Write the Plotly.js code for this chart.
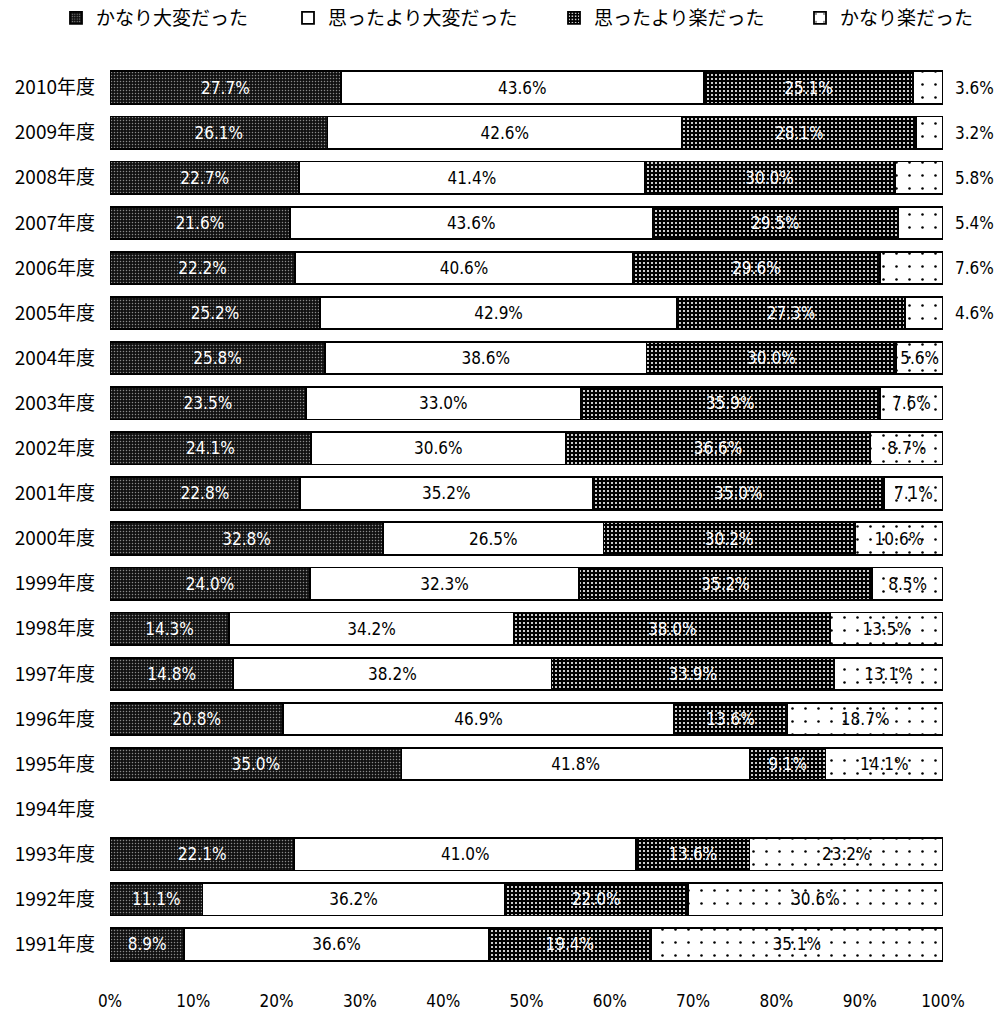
<!DOCTYPE html>
<html>
<head>
<meta charset="utf-8">
<script src="https://cdn.plot.ly/plotly-3.0.1.min.js"></script>
<style>body{margin:0;background:#fff;}#chart{width:1000px;height:1032px;}</style>
</head>
<body>
<div id="chart"></div>
<script>
const years = ["2010年度","2009年度","2008年度","2007年度","2006年度","2005年度","2004年度","2003年度","2002年度","2001年度","2000年度","1999年度","1998年度","1997年度","1996年度","1995年度","1994年度","1993年度","1992年度","1991年度"];
const seriesNames = ["かなり大変だった","思ったより大変だった","思ったより楽だった","かなり楽だった"];
const veryHard = [27.7,26.1,22.7,21.6,22.2,25.2,25.8,23.5,24.1,22.8,32.8,24.0,14.3,14.8,20.8,35.0,null,22.1,11.1,8.9];
const harder   = [43.6,42.6,41.4,43.6,40.6,42.9,38.6,33.0,30.6,35.2,26.5,32.3,34.2,38.2,46.9,41.8,null,41.0,36.2,36.6];
const easier   = [25.1,28.1,30.0,29.5,29.6,27.3,30.0,35.9,36.6,35.0,30.2,35.2,38.0,33.9,13.6,9.1,null,13.6,22.0,19.4];
const veryEasy = [3.6,3.2,5.8,5.4,7.6,4.6,5.6,7.6,8.7,7.1,10.6,8.5,13.5,13.1,18.7,14.1,null,23.2,30.6,35.1];
const outsideLabel = [true,true,true,true,true,true,false,false,false,false,false,false,false,false,false,false,false,false,false,false];
const tickVals = [0,10,20,30,40,50,60,70,80,90,100];
const tickText = ["0%","10%","20%","30%","40%","50%","60%","70%","80%","90%","100%"];

const labelFont = "'Liberation Sans Narrow', 'DejaVu Sans Condensed', 'DejaVu Sans', sans-serif";
const cjkFont = "'Noto Sans CJK JP', sans-serif";
const fmt = v => v == null ? "" : v.toFixed(1) + "%";

const styles = [
  {color:"#111", pattern:{shape:".", fgcolor:"#8a8a8a", bgcolor:"#111", size:3, solidity:0.2}, txt:"#fff"},
  {color:"#fff", pattern:null, txt:"#000"},
  {color:"#000", pattern:{shape:".", fgcolor:"#fff", bgcolor:"#000", size:4, solidity:0.22}, txt:"#fff"},
  {color:"#fff", pattern:{shape:".", fgcolor:"#000", bgcolor:"#fff", size:13, solidity:0.03}, txt:"#000"}
];
const allVals = [veryHard, harder, easier, veryEasy];
const legendIds = ["legend","legend2","legend3","legend4"];

const traces = allVals.map((vals, i) => {
  const s = styles[i];
  const marker = {color: s.color, line:{color:"#000", width:1.8}};
  if (s.pattern) marker.pattern = s.pattern;
  return {
    type:"bar", orientation:"h", name: seriesNames[i], legend: legendIds[i],
    y: years, x: vals,
    text: vals.map((v, j) => (i === 3 && outsideLabel[j]) ? "" : fmt(v)),
    textposition:"inside", insidetextanchor:"middle", constraintext:"none",
    textfont:{family: labelFont, size:17, color: s.txt},
    marker: marker, width:0.72, hoverinfo:"skip"
  };
});

const annotations = [];
years.forEach((y, j) => {
  if (outsideLabel[j]) {
    annotations.push({x:100, y:y, xref:"x", yref:"y", text: fmt(veryEasy[j]), showarrow:false,
      xanchor:"left", xshift:10, font:{family: labelFont, size:17, color:"#000"}});
  }
});

const legendX = [56, 288, 554, 800];
function mkLegend(px) {
  return {orientation:"h", x: px/1000, xref:"container", xanchor:"left",
    y: 1 - 18/1032, yref:"container", yanchor:"middle",
    font:{family: cjkFont, size:19, color:"#000"}, itemwidth:30, bgcolor:"rgba(0,0,0,0)"};
}

const layout = {
  width:1000, height:1032,
  margin:{l:110, r:57, t:65, b:65, autoexpand:false},
  paper_bgcolor:"#fff", plot_bgcolor:"#fff",
  barmode:"stack", barnorm:"percent", bargap:0.28,
  showlegend:true,
  legend: mkLegend(legendX[0]),
  legend2: mkLegend(legendX[1]),
  legend3: mkLegend(legendX[2]),
  legend4: mkLegend(legendX[3]),
  xaxis:{range:[0,100], tickvals:tickVals, ticktext:tickText, showgrid:false, zeroline:false, showline:false,
    ticks:"", ticklabelstandoff:22, tickfont:{family: labelFont, size:17, color:"#000"}, fixedrange:true},
  yaxis:{categoryorder:"array", categoryarray:years, autorange:"reversed", showgrid:false, zeroline:false,
    showline:false, ticks:"", ticklabelstandoff:14,
    tickfont:{family: cjkFont, size:19, color:"#000"}, fixedrange:true},
  annotations: annotations
};

Plotly.newPlot("chart", traces, layout, {displayModeBar:false, staticPlot:true});
</script>
</body>
</html>
